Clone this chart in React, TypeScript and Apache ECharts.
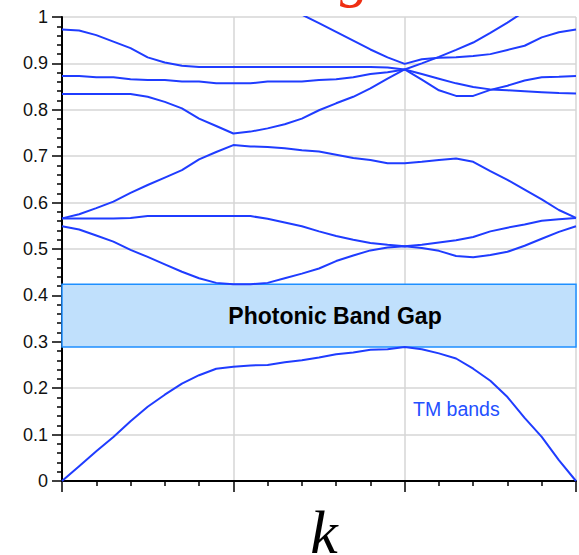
import React, { useEffect, useRef } from "react";
import * as echarts from "echarts";

// Wave-vector positions along the path (Γ–X–M–Γ), one value per computed point
const kValues = [
  0, 1, 2, 3, 4, 5, 6, 7, 8, 9, 10, 11, 12, 13, 14, 15, 16, 17, 18, 19, 20,
  21, 22, 23, 24, 25, 26, 27, 28, 29, 30,
];

// Normalised frequencies of the TM bands
const band1 = [
  0, 0.032, 0.064, 0.095, 0.129, 0.16, 0.186, 0.21, 0.228, 0.242, 0.246,
  0.249, 0.25, 0.256, 0.26, 0.266, 0.273, 0.277, 0.283, 0.284, 0.289, 0.284,
  0.275, 0.264, 0.242, 0.216, 0.181, 0.136, 0.095, 0.045, 0,
];
const band2 = [
  0.549, 0.542, 0.529, 0.516, 0.498, 0.483, 0.467, 0.451, 0.437, 0.427, 0.424,
  0.424, 0.427, 0.437, 0.447, 0.458, 0.474, 0.486, 0.497, 0.503, 0.506, 0.502,
  0.496, 0.485, 0.482, 0.487, 0.494, 0.507, 0.522, 0.537, 0.549,
];
const band3 = [
  0.566, 0.566, 0.566, 0.566, 0.567, 0.571, 0.571, 0.571, 0.571, 0.571, 0.571,
  0.571, 0.565, 0.557, 0.549, 0.538, 0.528, 0.52, 0.513, 0.509, 0.506, 0.509,
  0.514, 0.519, 0.526, 0.538, 0.546, 0.553, 0.561, 0.564, 0.567,
];
const band4 = [
  0.566, 0.575, 0.588, 0.602, 0.621, 0.638, 0.654, 0.67, 0.693, 0.709, 0.724,
  0.721, 0.72, 0.717, 0.713, 0.71, 0.703, 0.696, 0.692, 0.685, 0.685, 0.688,
  0.692, 0.695, 0.688, 0.668, 0.649, 0.628, 0.607, 0.584, 0.567,
];
const band5 = [
  0.834, 0.834, 0.834, 0.834, 0.834, 0.828, 0.817, 0.803, 0.781, 0.765, 0.749,
  0.753, 0.76, 0.769, 0.781, 0.799, 0.814, 0.828, 0.846, 0.867, 0.887, 0.9,
  0.914, 0.929, 0.945, 0.966, 0.988, 1.012, null, null, null,
];
const band6 = [
  0.873, 0.873, 0.87, 0.87, 0.866, 0.864, 0.864, 0.861, 0.861, 0.857, 0.857,
  0.857, 0.861, 0.861, 0.861, 0.864, 0.866, 0.87, 0.877, 0.881, 0.887, 0.865,
  0.842, 0.83, 0.83, 0.843, 0.852, 0.863, 0.87, 0.871, 0.873,
];
const band7 = [
  0.973, 0.971, 0.961, 0.947, 0.933, 0.913, 0.902, 0.895, 0.892, 0.892, 0.892,
  0.892, 0.892, 0.892, 0.892, 0.892, 0.892, 0.892, 0.892, 0.891, 0.887, 0.877,
  0.867, 0.857, 0.849, 0.844, 0.842, 0.84, 0.838, 0.836, 0.835,
];
const band8 = [
  null, null, null, null, null, null, null, null, null, null, null, null, null,
  null, 1.005, 0.987, 0.968, 0.949, 0.93, 0.913, 0.899, 0.909, 0.912, 0.913,
  0.916, 0.92, 0.929, 0.938, 0.956, 0.967, 0.973,
];

const bands = [band1, band2, band3, band4, band5, band6, band7, band8];

// Photonic band gap edges (top of band 1, bottom of band 2)
const gapBottom = 0.289;
const gapTop = 0.424;

const gapLabel = "Photonic Band Gap";
const bandsLabel = "TM bands";

const SANS = '"Liberation Sans", Arial, Helvetica, sans-serif';
const SERIF = '"Liberation Serif", "DejaVu Serif", "Times New Roman", serif';
const LINE_COLOR = "#1f3cff";

export default function App() {
  const ref = useRef<HTMLDivElement>(null);

  useEffect(() => {
    if (!ref.current) return;
    const chart = echarts.init(ref.current, null, { renderer: "svg" });

    const bandSeries = bands.map((b, idx) => ({
      type: "line",
      name: "band" + (idx + 1),
      data: kValues.map((k, i) => [k, b[i]]),
      showSymbol: false,
      connectNulls: false,
      clip: true,
      lineStyle: { color: LINE_COLOR, width: 2 },
      z: 3,
    }));

    const option = {
      animation: false,
      grid: {
        left: 62,
        right: 3,
        top: 17,
        bottom: 74,
        containLabel: false,
        outerBoundsMode: "none",
      },
      xAxis: {
        type: "value",
        min: 0,
        max: 30,
        interval: 10,
        axisLine: { lineStyle: { color: "#000", width: 2 } },
        axisTick: { show: true, inside: false, length: 11, lineStyle: { color: "#000", width: 1.5 } },
        minorTick: { show: true, splitNumber: 5, length: 5, lineStyle: { color: "#000", width: 1.5 } },
        splitLine: { show: true, lineStyle: { color: "#d6d6d6", width: 1.5 } },
        axisLabel: { show: false },
        name: "k",
        nameLocation: "middle",
        nameGap: 31,
        nameTextStyle: {
          fontFamily: SERIF,
          fontStyle: "italic",
          fontSize: 62,
          lineHeight: 40,
          color: "#000",
          padding: [0, 0, 0, 10],
        },
      },
      yAxis: {
        type: "value",
        min: 0,
        max: 1,
        interval: 0.1,
        axisLine: { show: true, lineStyle: { color: "#000", width: 2 } },
        axisTick: { show: true, inside: false, length: 10, lineStyle: { color: "#000", width: 1.5 } },
        minorTick: { show: true, splitNumber: 5, length: 5, lineStyle: { color: "#000", width: 1.5 } },
        splitLine: { show: true, lineStyle: { color: "#d6d6d6", width: 1.5 } },
        axisLabel: { fontSize: 18, color: "#111", fontFamily: SANS, margin: 14 },
      },
      series: [
        {
          type: "line",
          name: "gap",
          data: [[kValues[0], gapBottom]],
          showSymbol: false,
          lineStyle: { opacity: 0 },
          z: -1,
          markArea: {
            silent: true,
            itemStyle: { color: "#c0e0fc", borderColor: "#1e8fff", borderWidth: 1.5 },
            label: {
              show: true,
              position: "inside",
              formatter: gapLabel,
              fontSize: 23,
              fontWeight: "bold",
              color: "#000",
              fontFamily: SANS,
              offset: [16, 0],
            },
            data: [[{ xAxis: kValues[0], yAxis: gapBottom }, { xAxis: kValues[kValues.length - 1], yAxis: gapTop }]],
          },
        },
        ...bandSeries,
      ],
      graphic: [
        {
          type: "text",
          x: 413,
          y: 409,
          style: {
            text: bandsLabel,
            fill: "#2450ff",
            font: `19.5px ${SANS}`,
            verticalAlign: "middle",
            align: "left",
          },
          z: 10,
        },
        {
          type: "text",
          x: 340,
          y: -25,
          style: {
            text: "g",
            fill: "#ef2e12",
            font: `italic 60px ${SERIF}`,
            verticalAlign: "middle",
            align: "left",
          },
          z: 10,
        },
      ],
    };

    chart.setOption(option as any);
    return () => chart.dispose();
  }, []);

  return (
    <div
      ref={ref}
      style={{ position: "absolute", left: 0, top: 0, width: 579, height: 555 }}
    />
  );
}
